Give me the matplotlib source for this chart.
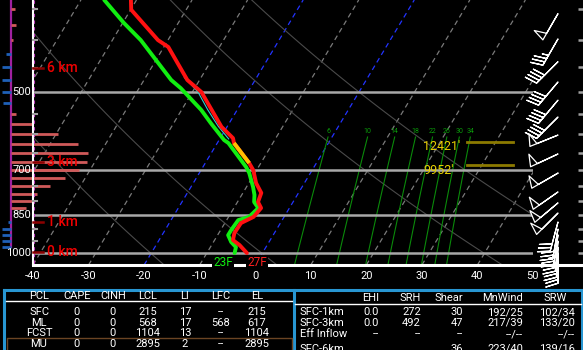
import numpy as np
import matplotlib
matplotlib.use('Agg')
import matplotlib.pyplot as plt

plt.rcParams['font.family'] = ['Roboto', 'DejaVu Sans']

# ---------------- data ----------------
temp_p = [336.6, 351, 400, 412, 475, 500, 581, 610, 623, 679, 700, 740, 772, 803, 824, 856, 879, 918, 946, 966, 1000]
temp_c = [-51.0, -49.9, -41.8, -39.2, -32.2, -28.4, -21.0, -17.7, -17.0, -12.1, -10.6, -8.7, -6.7, -6.3, -5.1, -5.5, -7.1, -7.2, -6.7, -5.0, -2.8]
dewp_p = [336.6, 371.5, 400, 475, 492, 540, 572, 615, 623, 662, 691, 709, 753, 779, 803, 824, 856, 868, 906, 926, 954, 975, 1000]
dewp_c = [-55.8, -49.8, -44.9, -35.1, -32.5, -26.5, -23.3, -19.1, -18.0, -14.6, -12.2, -11.0, -8.8, -7.7, -7.0, -5.6, -6.3, -7.9, -8.1, -8.1, -6.8, -5.4, -5.0]
dgz_p = [623, 679]
dgz_c = [-17.0, -12.1]
virt_p = [470, 500, 540, 580, 612]
virt_c = [-33.0, -29.0, -25.3, -21.6, -18.4]

iso_blue = [-20, 0]
theta_k = [253, 273, 313, 333]
mix_ratio = [6, 10, 14, 18, 22, 26, 30, 34]
t_ticks = [-40, -30, -20, -10, 0, 10, 20, 30, 40, 50]
p_lines = [500, 700, 850, 1000]
tick_p = [350, 400, 450, 550, 600, 650, 750, 800, 900, 950]
right_tick_p = [350, 400, 450, 500, 550, 600, 650, 700, 750, 800, 850, 900, 950, 1000]
km_labels = ['0 km', '1 km', '3 km', '6 km']
km_p = [996, 875, 676, 451]
dgz_labels = ["12421'", "9952'"]
dgz_line_p = [620, 685]
hist_red_p = [350, 375, 400, 550, 575, 600, 625, 650, 675, 700, 725, 750, 775, 800, 825]
hist_red = [4, 5, 2, 5, 22, 47, 67, 77, 76, 68, 54, 39, 26, 23, 15]
hist_blue_p = [425, 450, 475, 500, 525, 875, 900, 925, 950, 975]
hist_blue = [5, 9, 9, 9, 8, 3, 9, 9, 9, 9]
wind_p = [357, 398, 439, 479, 518, 557, 602, 653, 709, 769, 806, 842, 875, 902, 925, 950, 975, 1000]
wind_dir = [210, 210, 225, 220, 220, 225, 248, 245, 240, 235, 230, 225, 195, 190, 188, 185, 183, 180]
wind_kt = [50, 35, 40, 40, 40, 40, 50, 50, 50, 50, 50, 50, 30, 30, 25, 25, 20, 20]
sfc_t_label, sfc_td_label = '27F', '23F'

pcl_header = ['PCL', 'CAPE', 'CINH', 'LCL', 'LI', 'LFC', 'EL']
pcl_rows = [['SFC', '0', '0', '215', '17', '--', '215'],
            ['ML', '0', '0', '568', '17', '568', '617'],
            ['FCST', '0', '0', '1104', '13', '--', '1104'],
            ['MU', '0', '0', '2895', '2', '--', '2895']]
kin_header = ['', 'EHI', 'SRH', 'Shear', 'MnWind', 'SRW']
kin_rows = [['SFC-1km', '0.0', '272', '30', '192/25', '102/34'],
            ['SFC-3km', '0.0', '492', '47', '217/39', '133/20'],
            ['Eff Inflow', '--', '--', '--', '--/--', '--/--'],
            ['SFC-6km', '', '', '36', '223/40', '139/16']]

# ---------------- geometry ----------------
W, H = 583, 350
P_BOT, P_TOP, SKEW = 1053.0, 336.6, 25.1
Y_BOT, PX_LNP = 265.0, 232.3


def rect(x0, y0, x1, y1):
    return [x0 / W, 1 - y1 / H, (x1 - x0) / W, (y1 - y0) / H]


def skx(T, p):
    return np.asarray(T, float) + SKEW * np.log(P_BOT / np.asarray(p, float))


def p2y(p):
    return Y_BOT - PX_LNP * np.log(P_BOT / np.asarray(p, float))


def ftext(x, y, s, **kw):
    d = dict(color='white', fontsize=8, ha='center', va='center')
    d.update(kw)
    return fig.text(x / W, 1 - y / H, s, **d)


fig = plt.figure(figsize=(W / 100, H / 100), dpi=100, facecolor='black')

# main skew-T axes
ax = fig.add_axes(rect(33, 0, 533, 265))
ax.set_facecolor('black')
ax.set_yscale('log')
ax.set_ylim(P_BOT, P_TOP)
ax.set_xlim(-40, 50)
ax.axis('off')

pp = np.geomspace(P_BOT, P_TOP, 60)
for T0 in range(-130, 60, 10):
    col = '#2233FF' if T0 in iso_blue else '#7a7a7a'
    ax.plot(skx(T0, pp), pp, color=col, lw=0.9, ls=(0, (4, 3)))
for th in theta_k:
    T = th * (pp / 1000.0) ** 0.286 - 273.15
    ax.plot(skx(T, pp), pp, color='#4a4a4a', lw=0.8)
pm = np.geomspace(P_BOT, 607, 30)
for w in mix_ratio:
    e = w * pm / (622.0 + w)
    a = np.log(e / 6.112)
    Td = 243.5 * a / (17.67 - a)
    ax.plot(skx(Td, pm), pm, color='#0a8a0a', lw=0.8)
    ax.text(skx(Td[-1], pm[-1]), 592, str(w), color='#0a9a0a', fontsize=5,
            ha='center', va='center')
for p in p_lines:
    ax.axhline(p, color='#a8a8a8', lw=1.8)

ax.plot(skx(virt_c, virt_p), virt_p, color='#30d0d0', lw=0.8, zorder=4)
ax.plot(skx(dewp_c, dewp_p), dewp_p, color='#11ee11', lw=2.8, zorder=5,
        solid_joinstyle='round', solid_capstyle='round')
ax.plot(skx(temp_c, temp_p), temp_p, color='#ff1111', lw=2.8, zorder=6,
        solid_joinstyle='round', solid_capstyle='round')
ax.plot(skx(dgz_c, dgz_p), dgz_p, color='#ffc000', lw=2.8, zorder=7,
        solid_capstyle='butt')

# histogram strip on the left
axh = fig.add_axes(rect(0, 0, 100, 265))
axh.set_yscale('log')
axh.set_ylim(P_BOT, P_TOP)
axh.set_xlim(-11, 89)
axh.axis('off')
axh.vlines(0, 978, P_TOP, color='#a020a0', lw=1.6)
axh.hlines(hist_red_p, 0, hist_red, color='#d05a5a', lw=2.0)
axh.hlines(hist_blue_p, -np.array(hist_blue), 0, color='#1f60b8', lw=2.0)

# wind barbs
axb = fig.add_axes(rect(533, 0, 583, 265))
axb.set_yscale('log')
axb.set_ylim(P_BOT, P_TOP)
axb.set_xlim(0, 50)
axb.axis('off')
axb.hlines(right_tick_p, 45, 50, color='#a0a0a0', lw=1.8)
wd = np.radians(wind_dir)
ws = np.array(wind_kt, float)
u = -ws * np.sin(wd)
v = -ws * np.cos(wd)
axb.barbs(np.full(len(wind_p), 25.0), wind_p, u, v, length=6.6,
          barbcolor='white', flagcolor='black', linewidth=0.9, clip_on=False)

# decoration overlay in pixel coordinates
deco = fig.add_axes([0, 0, 1, 1])
deco.set_xlim(0, W)
deco.set_ylim(H, 0)
deco.axis('off')
deco.plot([33, 33], [0, 265], color='white', lw=1.5)
deco.plot([34, 34], [0, 265], color='#c040c0', lw=0.8, ls=(0, (3, 3)))
for p in tick_p:
    deco.plot([33, 37], [p2y(p)] * 2, color='#a0a0a0', lw=1.5)
deco.plot([33, 583], [265, 265], color='white', lw=2.2)
for lab, p in zip(km_labels, km_p):
    y = float(p2y(p))
    deco.plot([33, 43], [y, y], color='#8b0000', lw=1.8)
    ftext(47, y, lab, color='#ee0000', fontsize=10, ha='left', fontweight='medium')
for lab, p in zip(dgz_labels, dgz_line_p):
    y = float(p2y(p))
    deco.plot([467, 513], [y, y], color='#8c7a00', lw=2)
    ftext(423, y + 5, lab, color='#e8d000', fontsize=9, ha='left')
for p in p_lines:
    ftext(31, float(p2y(p)), str(p), ha='right', fontsize=8)
for t in t_ticks:
    ftext(33 + (t + 40) * 5.555, 276, str(t), fontsize=8)
ftext(223, 263, sfc_td_label, color='#11ee11', fontsize=8.5,
      bbox=dict(facecolor='black', edgecolor='none', pad=1.0))
ftext(257, 263, sfc_t_label, color='#ff2020', fontsize=8.5,
      bbox=dict(facecolor='black', edgecolor='none', pad=1.0))

# tables
blue = '#2896d2'
deco.plot([4, 582], [290, 290], color=blue, lw=2.2)
for x in (4, 293.5, 582):
    deco.plot([x, x], [290, 352], color=blue, lw=2.2)
deco.plot([6, 292], [301, 301], color='white', lw=1)
deco.plot([295, 581], [304, 304], color='white', lw=1)
deco.plot([7, 292, 292, 7, 7], [352, 352, 338, 338, 352], color='#6b4423', lw=1)

pcl_x = [39, 77, 113, 148, 185, 221, 257]
for x, s in zip(pcl_x, pcl_header):
    ftext(x, 296, s)
for r, y in zip(pcl_rows, [312, 322.5, 333, 344]):
    for x, s in zip(pcl_x, r):
        ftext(x, y, s)

kin_x = [300, 379, 421, 463, 523, 575]
for i, s in enumerate(kin_header[1:], start=1):
    if s == 'SRW':
        ftext(567, 298, s, ha='right')
    else:
        ftext(kin_x[i], 298, s, ha='right')
for r, y in zip(kin_rows, [312, 323, 334, 349]):
    ftext(kin_x[0], y, r[0], ha='left')
    for x, s in zip(kin_x[1:], r[1:]):
        ftext(x, y, s, ha='right')

fig.savefig('out.png', dpi=100, facecolor='black')
